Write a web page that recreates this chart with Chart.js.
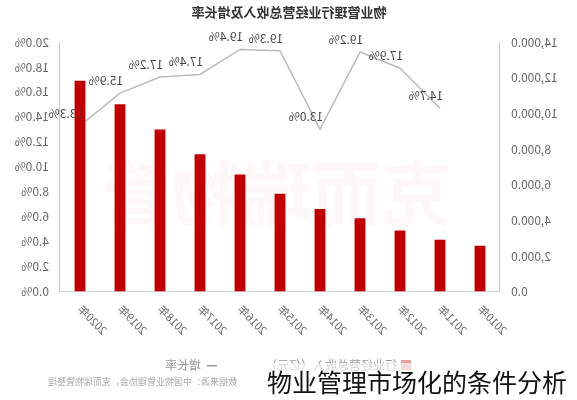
<!DOCTYPE html>
<html><head><meta charset="utf-8">
<script src="https://cdn.jsdelivr.net/npm/chart.js@4"></script>
<style>
body{margin:0;background:#fff;}
#wrap{position:relative;width:577px;height:400px;}
#c{transform:scaleX(-1);}
#cap{position:absolute;left:267px;top:363px;font:25px "Noto Sans CJK SC";color:#111;background:rgba(255,255,255,0.6);white-space:nowrap;}
</style></head>
<body>
<div id="wrap"><canvas id="c" width="577" height="400"></canvas><div id="cap">物业管理市场化的条件分析</div></div>
<script>
var years = ['2010年','2011年','2012年','2013年','2014年','2015年','2016年','2017年','2018年','2019年','2020年'];
var revenue = [2570, 2910, 3430, 4110, 4630, 5490, 6570, 7710, 9090, 10510, 11830];
var growth = [null, 14.7, 17.9, 19.2, 13.0, 19.3, 19.4, 17.4, 17.2, 15.9, 13.3];
var font = '"Noto Sans CJK SC", sans-serif';

var extras = {
    id: 'extras',
    afterDraw: function (chart) {
        var ctx = chart.ctx;
        var meta = chart.getDatasetMeta(1);
        ctx.save();
        ctx.font = '12px ' + font;
        ctx.fillStyle = '#444';
        ctx.textAlign = 'center';
        for (var i = 0; i < growth.length; i++) {
            if (growth[i] === null) continue;
            var p = meta.data[i];
            ctx.fillText(growth[i].toFixed(1) + '%', p.x + 14, p.y - 8);
        }
        // title
        ctx.font = 'bold 13px ' + font;
        ctx.fillStyle = '#333';
        ctx.fillText('物业管理行业经营总收入及增长率', 288, 17);
        // legend
        ctx.textAlign = 'left';
        ctx.font = '12px ' + font;
        ctx.fillStyle = '#e8a0a0';
        ctx.fillRect(166, 360, 10, 10);
        ctx.fillStyle = '#999';
        ctx.fillText('行业经营总收入（亿元）', 180, 370);
        ctx.fillRect(360, 365, 10, 1.5);
        ctx.fillText('增长率', 376, 370);
        ctx.font = '9px ' + font;
        ctx.fillStyle = '#aaa';
        ctx.fillText('数据来源：中国物业管理协会，克而瑞物管整理', 340, 385);
        // watermark
        ctx.font = 'bold 70px ' + font;
        ctx.fillStyle = 'rgba(200,0,0,0.03)';
        ctx.textAlign = 'center';
        ctx.fillText('克而瑞物管', 300, 220);
        ctx.restore();
    }
};

new Chart(document.getElementById('c'), {
    data: {
        labels: years,
        datasets: [{
            type: 'bar',
            label: '行业经营总收入（亿元）',
            data: revenue,
            backgroundColor: '#c00000',
            barPercentage: 0.34,
            yAxisID: 'y'
        }, {
            type: 'line',
            label: '增长率',
            data: growth,
            borderColor: '#bbb',
            borderWidth: 1.5,
            pointRadius: 0,
            tension: 0,
            yAxisID: 'y1'
        }]
    },
    options: {
        responsive: false,
        animation: false,
        layout: { padding: { top: 42, bottom: 60, left: 0, right: 0 } },
        plugins: { legend: { display: false }, tooltip: { enabled: false } },
        scales: {
            x: {
                grid: { display: false },
                border: { color: '#ccc' },
                ticks: { color: '#666', font: { family: font, size: 11 }, maxRotation: 45, minRotation: 45 }
            },
            y: {
                position: 'left', min: 0, max: 14000,
                afterFit: function (s) { s.width = 77; },
                grid: { display: false },
                border: { color: '#ccc' },
                ticks: { stepSize: 2000, color: '#666', font: { family: font, size: 12 },
                    callback: function (v) { return v.toLocaleString('en-US') + '.0'; } }
            },
            y1: {
                position: 'right', min: 0, max: 20,
                afterFit: function (s) { s.width = 60; },
                grid: { display: false },
                border: { color: '#ccc' },
                ticks: { stepSize: 2, color: '#666', font: { family: font, size: 12 },
                    callback: function (v) { return v.toFixed(1) + '%'; } }
            }
        }
    },
    plugins: [extras]
});
</script>
</body></html>
